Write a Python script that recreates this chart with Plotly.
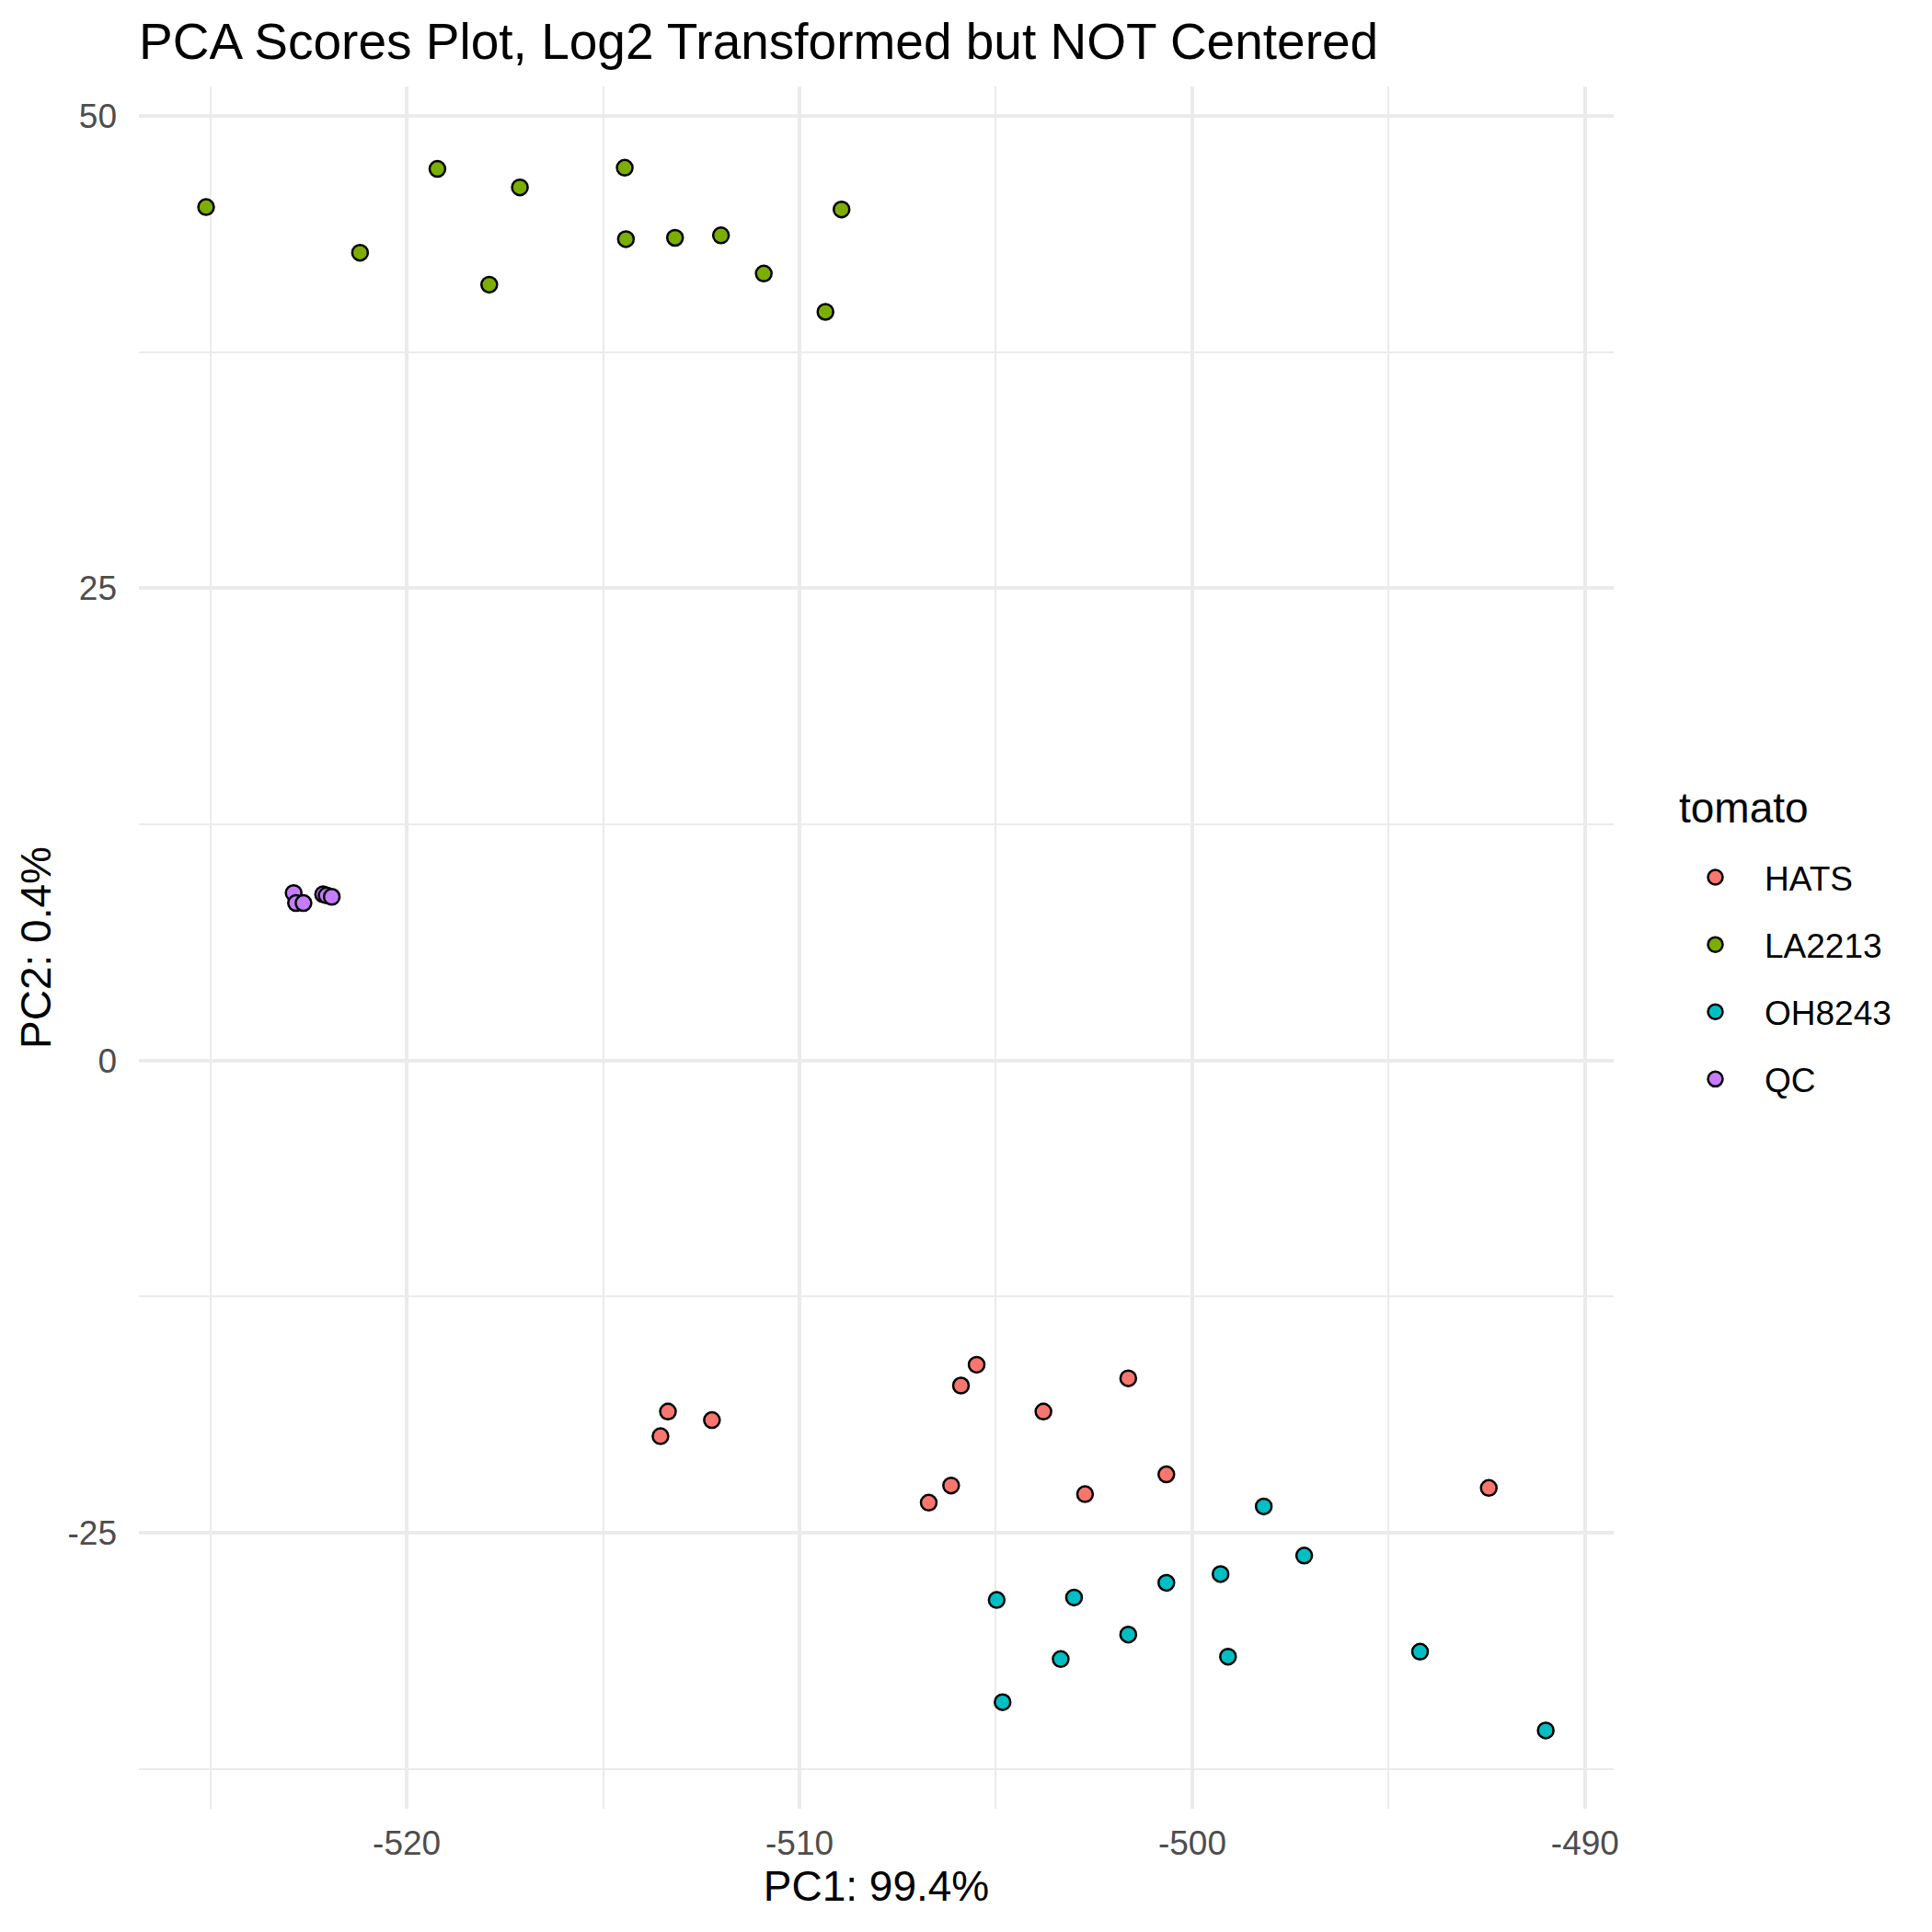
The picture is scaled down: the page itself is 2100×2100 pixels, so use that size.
import plotly.graph_objects as go

groups = ["HATS", "LA2213", "OH8243", "QC"]
colors = ["#F8766D", "#7CAE00", "#00BFC4", "#C77CFF"]

hats_pc1 = [-505.49, -505.89, -501.63, -513.35, -503.79, -512.23, -513.54, -500.66, -506.14, -492.45, -506.71, -502.73]
hats_pc2 = [-16.10, -17.20, -16.82, -18.58, -18.58, -19.03, -19.88, -21.90, -22.49, -22.62, -23.40, -22.95]

la_pc1 = [-525.11, -521.19, -519.22, -517.90, -517.12, -514.45, -514.42, -513.17, -512.00, -510.91, -509.34, -508.93]
la_pc2 = [45.18, 42.76, 47.20, 41.07, 46.22, 47.26, 43.48, 43.55, 43.68, 41.66, 39.63, 45.05]

oh_pc1 = [-498.18, -497.15, -499.28, -500.66, -504.98, -503.01, -501.63, -503.35, -499.09, -494.20, -504.83, -491.00]
oh_pc2 = [-23.60, -26.20, -27.18, -27.64, -28.55, -28.42, -30.38, -31.68, -31.55, -31.29, -33.96, -35.46]

qc_pc1 = [-522.88, -522.82, -522.63, -522.13, -522.04, -521.91]
qc_pc2 = [8.87, 8.34, 8.34, 8.80, 8.74, 8.67]

x_ticks = [-520, -510, -500, -490]
y_ticks = [-25, 0, 25, 50]

series = [(hats_pc1, hats_pc2), (la_pc1, la_pc2), (oh_pc1, oh_pc2), (qc_pc1, qc_pc2)]

fig = go.Figure()
for name, col, (xs, ys) in zip(groups, colors, series):
    fig.add_trace(go.Scatter(
        x=xs, y=ys, mode="markers", name=name, legendgroup=name,
        marker=dict(size=17, color=col, line=dict(color="black", width=2.5)),
    ))

FONT = "Liberation Sans, Arial, sans-serif"
grid_major = "#EBEBEB"

fig.add_annotation(
    text="tomato", xref="paper", yref="paper", showarrow=False,
    x=(1815 - 143) / (2100 - 143 - 354), y=1 - (870 - 86) / (2100 - 86 - 142),
    xanchor="left", yanchor="middle",
    font=dict(size=46, color="black", family=FONT),
)

fig.update_layout(
    width=2100, height=2100,
    margin=dict(l=143, r=354, t=86, b=142),
    paper_bgcolor="white", plot_bgcolor="white",
    font=dict(family=FONT, color="black"),
    title=dict(text="PCA Scores Plot, Log2 Transformed but NOT Centered",
               font=dict(size=55, color="black", family=FONT),
               xref="container", x=143/2100, xanchor="left",
               yref="container", y=1-37/2100, yanchor="middle"),
    legend=dict(
        font=dict(size=37, color="black"),
        xref="container", yref="container",
        x=1803/2100, y=1-915/2100, xanchor="left", yanchor="top",
        itemwidth=97, tracegroupgap=22, bgcolor="rgba(0,0,0,0)",
    ),
    xaxis=dict(
        range=[-526.82, -489.27], tickvals=x_ticks,
        ticktext=[str(v) for v in x_ticks],
        showline=False, zeroline=False, ticks="",
        showgrid=True, gridcolor=grid_major, gridwidth=3.5,
        minor=dict(dtick=5, tick0=-520, showgrid=True, gridcolor=grid_major, gridwidth=1.8),
        tickfont=dict(size=37, color="#4D4D4D"),
        ticklabelstandoff=12,
        title=dict(text="PC1: 99.4%", font=dict(size=46, color="black"), standoff=10),
    ),
    yaxis=dict(
        range=[-39.6, 51.56], tickvals=y_ticks,
        ticktext=[str(v) for v in y_ticks],
        showline=False, zeroline=False, ticks="",
        showgrid=True, gridcolor=grid_major, gridwidth=3.5,
        minor=dict(dtick=12.5, tick0=0, showgrid=True, gridcolor=grid_major, gridwidth=1.8),
        tickfont=dict(size=37, color="#4D4D4D"),
        ticklabelstandoff=23,
        title=dict(text="PC2: 0.4%", font=dict(size=46, color="black"), standoff=3),
    ),
)

fig.write_html("out.html")
